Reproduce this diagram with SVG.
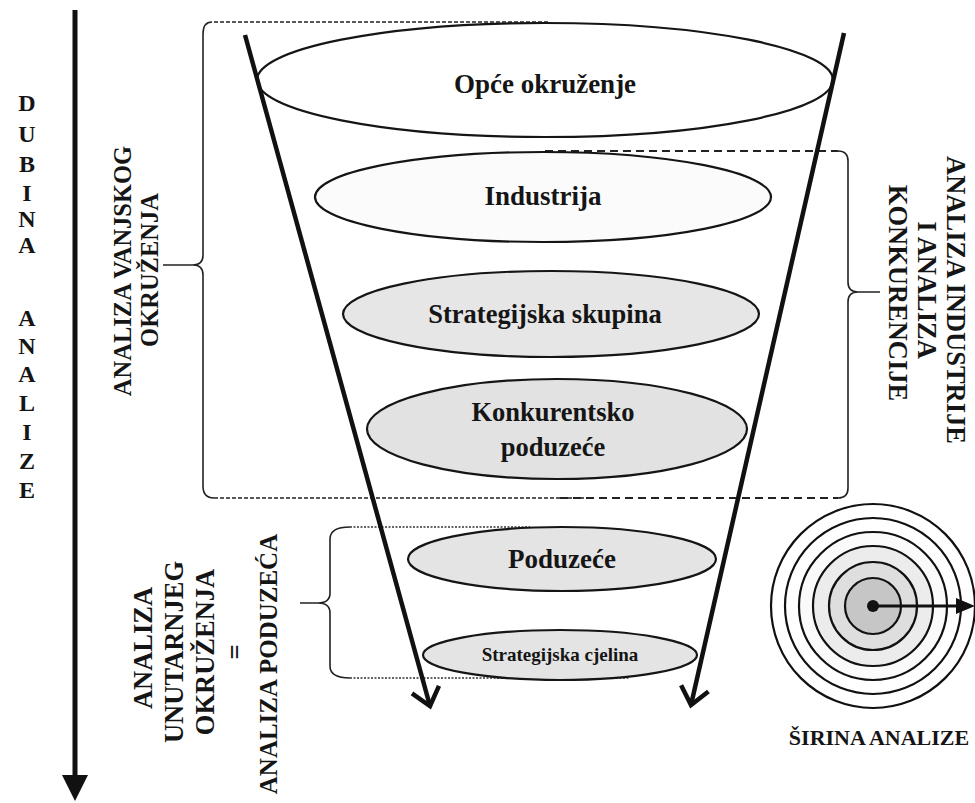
<svg xmlns="http://www.w3.org/2000/svg" width="975" height="803" viewBox="0 0 975 803">
<defs>
<style>
.t{font-family:"Liberation Serif","Times New Roman",serif;font-weight:bold;fill:#151515}
.ell{stroke:#151515;stroke-width:2.2}
.fun{stroke:#111;stroke-width:4.5;fill:none}
.br{stroke:#222;stroke-width:1.6;fill:none}
.dash1{stroke:#222;stroke-width:1.6;stroke-dasharray:4 2;fill:none}
.dash2{stroke:#222;stroke-width:1.8;stroke-dasharray:8 5;fill:none}
.dot{stroke:#333;stroke-width:1.6;stroke-dasharray:2 1.5;fill:none}
.ring{stroke:#111;stroke-width:2.2}
</style>
<marker id="vhead" viewBox="-22 -16 26 32" markerUnits="userSpaceOnUse" markerWidth="26" markerHeight="32" refX="0" refY="0" orient="auto" overflow="visible">
<path d="M-17,-14 L0,0 L-17,14" fill="none" stroke="#111" stroke-width="4.5" stroke-linejoin="miter"/>
</marker>
</defs>
<rect width="975" height="803" fill="#ffffff"/>

<g id="depth-axis">
<line x1="75" y1="10" x2="75" y2="778" stroke="#111" stroke-width="5"/>
<polygon points="62,775 88,775 75,801" fill="#111"/>
<g class="t" font-size="24" text-anchor="middle">
<text x="27" y="111">D</text>
<text x="27" y="142">U</text>
<text x="27" y="172">B</text>
<text x="27" y="201">I</text>
<text x="27" y="227">N</text>
<text x="27" y="253">A</text>
<text x="27" y="326">A</text>
<text x="27" y="354">N</text>
<text x="27" y="382">A</text>
<text x="27" y="411">L</text>
<text x="27" y="440">I</text>
<text x="27" y="469">Z</text>
<text x="27" y="498">E</text>
</g>
</g>

<g id="braces">
<path class="br" d="M212,22 Q203,22 203,34 V255 Q203,265 193,265 H163 M193,265 Q203,265 203,275 V486 Q203,498 214,498"/>
<line class="dash1" x1="214" y1="22" x2="548" y2="22"/>
<line class="dash1" x1="214" y1="498" x2="590" y2="498"/>
<path class="br" d="M838,151 Q848,151 848,161 V282 Q848,292 858,292 H880 M858,292 Q848,292 848,302 V488 Q848,498 838,498"/>
<line class="dash2" x1="545" y1="151" x2="838" y2="151"/>
<line class="dash2" x1="560" y1="498" x2="838" y2="498"/>
<path class="br" d="M350,527 Q330,527 330,539 V593 Q330,603 318,603 H300 M318,603 Q330,603 330,613 V666 Q330,678 350,678"/>
<line class="dot" x1="350" y1="527" x2="530" y2="527"/>
<line class="dot" x1="350" y1="678" x2="630" y2="678"/>
</g>

<g id="opce-okruzenje">
<ellipse class="ell" cx="545" cy="80" rx="288" ry="57" fill="#ffffff"/>
<text class="t" x="545" y="93" font-size="27" text-anchor="middle">Opće okruženje</text>
</g>
<g id="industrija">
<ellipse class="ell" cx="543" cy="197" rx="228" ry="45" fill="#fbfbfb"/>
<text class="t" x="543" y="205" font-size="27" text-anchor="middle">Industrija</text>
</g>
<g id="strategijska-skupina">
<ellipse class="ell" cx="551" cy="314" rx="208" ry="43" fill="#e6e6e6"/>
<text class="t" x="545" y="323" font-size="26.5" text-anchor="middle">Strategijska skupina</text>
</g>
<g id="konkurentsko-poduzece">
<ellipse class="ell" cx="557" cy="429" rx="190" ry="50" fill="#e2e2e2"/>
<text class="t" x="553" y="421" font-size="26.5" text-anchor="middle">Konkurentsko</text>
<text class="t" x="553" y="456" font-size="26.5" text-anchor="middle">poduzeće</text>
</g>
<g id="poduzece">
<ellipse class="ell" cx="562" cy="559" rx="154" ry="32" fill="#e4e4e4"/>
<text class="t" x="562" y="568" font-size="27" text-anchor="middle">Poduzeće</text>
</g>
<g id="strategijska-cjelina">
<ellipse class="ell" cx="560" cy="655" rx="137" ry="25" fill="#e4e4e4"/>
<text class="t" x="560" y="661" font-size="19" text-anchor="middle">Strategijska cjelina</text>
</g>

<g id="connectors">
<line class="fun" x1="245" y1="35" x2="430" y2="706" marker-end="url(#vhead)"/>
<line class="fun" x1="844" y1="33" x2="691" y2="705" marker-end="url(#vhead)"/>
</g>

<g id="label-vanjsko">
<text class="t" font-size="24.5" text-anchor="middle" transform="translate(131,271) rotate(-90)">ANALIZA VANJSKOG</text>
<text class="t" font-size="24.5" text-anchor="middle" transform="translate(158,270) rotate(-90)">OKRUŽENJA</text>
</g>
<g id="label-industrija">
<text class="t" font-size="26.5" text-anchor="middle" transform="translate(947,300) rotate(90)">ANALIZA INDUSTRIJE</text>
<text class="t" font-size="26.5" text-anchor="middle" transform="translate(918,290) rotate(90)">I ANALIZA</text>
<text class="t" font-size="26.5" text-anchor="middle" transform="translate(889,293) rotate(90)">KONKURENCIJE</text>
</g>
<g id="label-unutarnje">
<text class="t" font-size="26.5" text-anchor="middle" transform="translate(152,648) rotate(-90)">ANALIZA</text>
<text class="t" font-size="26.5" text-anchor="middle" transform="translate(183,652) rotate(-90)">UNUTARNJEG</text>
<text class="t" font-size="26.5" text-anchor="middle" transform="translate(214,652) rotate(-90)">OKRUŽENJA</text>
<text class="t" font-size="26.5" text-anchor="middle" transform="translate(244,652) rotate(-90)">=</text>
<text class="t" font-size="25" text-anchor="middle" transform="translate(277,664) rotate(-90)">ANALIZA PODUZEĆA</text>
</g>

<g id="sirina">
<circle class="ring" cx="873" cy="606" r="102" fill="#ffffff"/>
<circle class="ring" cx="873" cy="606" r="88" fill="#ffffff"/>
<circle class="ring" cx="873" cy="606" r="74" fill="#fafafa"/>
<circle class="ring" cx="873" cy="606" r="60" fill="#ececec"/>
<circle class="ring" cx="873" cy="606" r="44" fill="#dedede"/>
<circle class="ring" cx="873" cy="606" r="28" fill="#c6c6c6"/>
<circle cx="873" cy="606" r="6" fill="#111"/>
<line x1="873" y1="606" x2="960" y2="606" stroke="#111" stroke-width="3.2"/>
<polygon points="956,598 975,606 956,614" fill="#111"/>
<text class="t" x="879" y="745" font-size="22" text-anchor="middle">ŠIRINA ANALIZE</text>
</g>
</svg>
